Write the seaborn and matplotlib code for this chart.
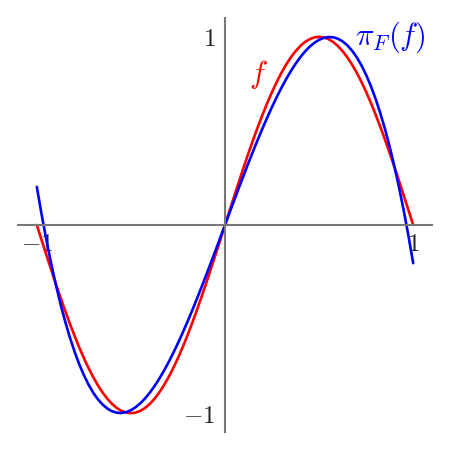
import matplotlib
matplotlib.use("Agg")
import matplotlib.pyplot as plt
import seaborn as sns
import pandas as pd

# sample points on [-1, 1]
x_vals = [-1.000, -0.975, -0.950, -0.925, -0.900, -0.875, -0.850, -0.825, -0.800, -0.775,
          -0.750, -0.725, -0.700, -0.675, -0.650, -0.625, -0.600, -0.575, -0.550, -0.525,
          -0.500, -0.475, -0.450, -0.425, -0.400, -0.375, -0.350, -0.325, -0.300, -0.275,
          -0.250, -0.225, -0.200, -0.175, -0.150, -0.125, -0.100, -0.075, -0.050, -0.025,
          0.000, 0.025, 0.050, 0.075, 0.100, 0.125, 0.150, 0.175, 0.200, 0.225,
          0.250, 0.275, 0.300, 0.325, 0.350, 0.375, 0.400, 0.425, 0.450, 0.475,
          0.500, 0.525, 0.550, 0.575, 0.600, 0.625, 0.650, 0.675, 0.700, 0.725,
          0.750, 0.775, 0.800, 0.825, 0.850, 0.875, 0.900, 0.925, 0.950, 0.975, 1.000]

# f (red)
f_vals = [0.0000, -0.0785, -0.1564, -0.2334, -0.3090, -0.3827, -0.4540, -0.5225, -0.5878, -0.6494,
          -0.7071, -0.7604, -0.8090, -0.8526, -0.8910, -0.9239, -0.9511, -0.9724, -0.9877, -0.9969,
          -1.0000, -0.9969, -0.9877, -0.9724, -0.9511, -0.9239, -0.8910, -0.8526, -0.8090, -0.7604,
          -0.7071, -0.6494, -0.5878, -0.5225, -0.4540, -0.3827, -0.3090, -0.2334, -0.1564, -0.0785,
          0.0000, 0.0785, 0.1564, 0.2334, 0.3090, 0.3827, 0.4540, 0.5225, 0.5878, 0.6494,
          0.7071, 0.7604, 0.8090, 0.8526, 0.8910, 0.9239, 0.9511, 0.9724, 0.9877, 0.9969,
          1.0000, 0.9969, 0.9877, 0.9724, 0.9511, 0.9239, 0.8910, 0.8526, 0.8090, 0.7604,
          0.7071, 0.6494, 0.5878, 0.5225, 0.4540, 0.3827, 0.3090, 0.2334, 0.1564, 0.0785, 0.0000]

# pi_F(f) (blue)
proj_vals = [0.2030, 0.0586, -0.0753, -0.1988, -0.3123, -0.4161, -0.5103, -0.5953, -0.6714, -0.7387,
             -0.7977, -0.8485, -0.8914, -0.9268, -0.9548, -0.9757, -0.9899, -0.9975, -0.9989, -0.9944,
             -0.9841, -0.9684, -0.9476, -0.9219, -0.8915, -0.8568, -0.8181, -0.7755, -0.7294, -0.6801,
             -0.6278, -0.5727, -0.5152, -0.4556, -0.3940, -0.3308, -0.2663, -0.2007, -0.1342, -0.0673,
             0.0000, 0.0673, 0.1342, 0.2007, 0.2663, 0.3308, 0.3940, 0.4556, 0.5152, 0.5727,
             0.6278, 0.6801, 0.7294, 0.7755, 0.8181, 0.8568, 0.8915, 0.9219, 0.9476, 0.9684,
             0.9841, 0.9944, 0.9989, 0.9975, 0.9899, 0.9757, 0.9548, 0.9268, 0.8914, 0.8485,
             0.7977, 0.7387, 0.6714, 0.5953, 0.5103, 0.4161, 0.3123, 0.1988, 0.0753, -0.0586, -0.2030]

sns.set_style("white")
plt.rcParams["mathtext.fontset"] = "cm"

df = pd.DataFrame({
    "x": x_vals * 2,
    "y": f_vals + proj_vals,
    "curve": ["f"] * len(x_vals) + ["proj"] * len(x_vals),
})

fig = plt.figure(figsize=(4.5, 4.5), dpi=100)
ax = fig.add_axes([0.04, 0.04, 0.92, 0.92])

sns.lineplot(data=df, x="x", y="y", hue="curve", palette={"f": "red", "proj": "blue"},
             linewidth=1.9, legend=False, ax=ax)

ax.set_xlim(-1.1, 1.1)
ax.set_ylim(-1.1, 1.1)
ax.set_xlabel("")
ax.set_ylabel("")

for side in ["top", "right"]:
    ax.spines[side].set_visible(False)
for side in ["left", "bottom"]:
    ax.spines[side].set_position("zero")
    ax.spines[side].set_color("#777777")
    ax.spines[side].set_linewidth(1.5)

ax.set_xticks([-1, 1])
ax.set_xticklabels(["$-1$", "$1$"])
ax.set_yticks([-1, 1])
ax.set_yticklabels(["$-1$", "$1$"])
ax.tick_params(direction="inout", length=6, width=1, colors="black", labelsize=18, pad=2)
ax.tick_params(axis="y", pad=4)
for lab in ax.get_xticklabels() + ax.get_yticklabels():
    lab.set_color("#222222")

ax.text(0.18, 0.80, "$f$", color="red", fontsize=22, ha="center", va="center")
ax.text(0.88, 1.00, r"$\pi_F(f)$", color="blue", fontsize=22, ha="center", va="center")

fig.savefig("out.png", dpi=100)
